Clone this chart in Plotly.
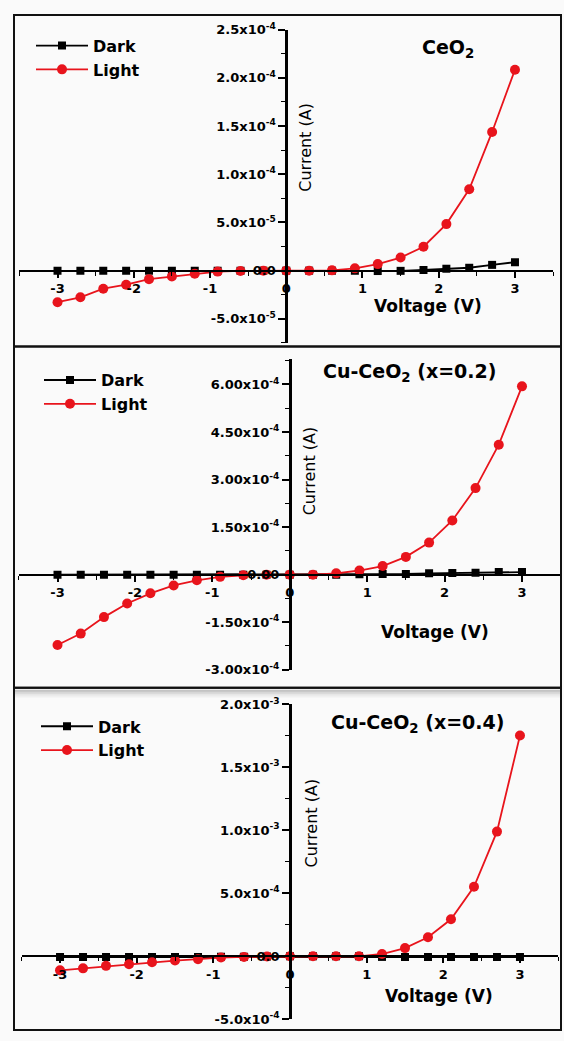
import plotly.graph_objects as go

# ---------------- data ----------------
voltage = [-3.0, -2.7, -2.4, -2.1, -1.8, -1.5, -1.2, -0.9, -0.6, -0.3, 0.0,
           0.3, 0.6, 0.9, 1.2, 1.5, 1.8, 2.1, 2.4, 2.7, 3.0]

ceo2_dark = [-2e-7, -2e-7, -2e-7, -2e-7, -2e-7, -2e-7, -2e-7, -1e-7, -1e-7, 0.0, 0.0,
             0.0, 0.0, -1e-7, -4e-7, -2e-7, 0.7e-6, 2.0e-6, 3.0e-6, 6.0e-6, 8.8e-6]
ceo2_light = [-3.27e-5, -2.76e-5, -1.87e-5, -1.46e-5, -0.88e-5, -0.61e-5, -0.31e-5, -0.10e-5,
              -0.03e-5, 0.0, 0.0, 0.0, 0.03e-5, 0.24e-5, 0.68e-5, 1.36e-5, 2.48e-5,
              4.83e-5, 8.44e-5, 14.39e-5, 20.85e-5]

cu02_dark = [0.0, 0.0, 0.0, 0.0, 0.0, 0.0, 0.0, 0.0, 0.0, 0.0, 0.0,
             0.0, 0.0, 0.01e-4, 0.02e-4, 0.02e-4, 0.04e-4, 0.05e-4, 0.06e-4, 0.08e-4, 0.08e-4]
cu02_light = [-2.22e-4, -1.86e-4, -1.34e-4, -0.91e-4, -0.59e-4, -0.34e-4, -0.18e-4, -0.07e-4,
              -0.02e-4, 0.0, 0.0, 0.0, 0.04e-4, 0.13e-4, 0.27e-4, 0.56e-4, 1.01e-4,
              1.71e-4, 2.73e-4, 4.10e-4, 5.94e-4]

cu04_dark = [-0.06e-4, -0.06e-4, -0.06e-4, -0.06e-4, -0.06e-4, -0.06e-4, -0.05e-4, -0.04e-4,
             -0.03e-4, -0.02e-4, 0.0, 0.0, 0.0, 0.0, -0.05e-4, -0.06e-4, -0.06e-4,
             -0.06e-4, -0.06e-4, -0.06e-4, -0.06e-4]
cu04_light = [-1.12e-4, -0.96e-4, -0.76e-4, -0.63e-4, -0.47e-4, -0.34e-4, -0.23e-4, -0.10e-4,
              -0.05e-4, -0.02e-4, 0.0, 0.0, 0.0, 0.0, 0.18e-4, 0.65e-4, 1.51e-4,
              2.94e-4, 5.52e-4, 9.90e-4, 17.53e-4]

titles = ["CeO<sub>2</sub>", "Cu-CeO<sub>2</sub> (x=0.2)", "Cu-CeO<sub>2</sub> (x=0.4)"]
series_names = ["Dark", "Light"]

x_tickvals = [-3, -2, -1, 0, 1, 2, 3]
x_ticktext = ["-3", "-2", "-1", "0", "1", "2", "3"]

y1_tickvals = [-5e-5, 0.0, 5e-5, 1e-4, 1.5e-4, 2e-4, 2.5e-4]
y1_ticktext = ["-5.0x10<sup>-5</sup>", "0.0", "5.0x10<sup>-5</sup>", "1.0x10<sup>-4</sup>",
               "1.5x10<sup>-4</sup>", "2.0x10<sup>-4</sup>", "2.5x10<sup>-4</sup>"]
y2_tickvals = [-3e-4, -1.5e-4, 0.0, 1.5e-4, 3e-4, 4.5e-4, 6e-4]
y2_ticktext = ["-3.00x10<sup>-4</sup>", "-1.50x10<sup>-4</sup>", "0.00", "1.50x10<sup>-4</sup>",
               "3.00x10<sup>-4</sup>", "4.50x10<sup>-4</sup>", "6.00x10<sup>-4</sup>"]
y3_tickvals = [-5e-4, 0.0, 5e-4, 1e-3, 1.5e-3, 2e-3]
y3_ticktext = ["-5.0x10<sup>-4</sup>", "0.0", "5.0x10<sup>-4</sup>", "1.0x10<sup>-3</sup>",
               "1.5x10<sup>-3</sup>", "2.0x10<sup>-3</sup>"]

# ---------------- layout helpers ----------------
W, H = 564, 1041
FONT = "DejaVu Sans"


def px(x):
    return x / W


def py(y):
    return 1 - y / H


panels = [
    dict(dark=ceo2_dark, light=ceo2_light, yt=y1_tickvals, ytt=y1_ticktext,
         xpx=(19.4, 553.1), ypx=(21.0, 339.5), yr=(-7.5e-5, 2.5e-4), ydt_minor=2.5e-5,
         box=(14, 6, 561, 343), cur=(306, 141), volt=(428, 302), title=(448, 40),
         legend=(31, 20)),
    dict(dark=cu02_dark, light=cu02_light, yt=y2_tickvals, ytt=y2_ticktext,
         xpx=(18.8, 560.7), ypx=(355.9, 671.7), yr=(-3.0e-4, 6.8e-4), ydt_minor=7.5e-5,
         box=(14, 343, 561, 690), cur=(309, 470), volt=(435, 633), title=(409, 370),
         legend=(39, 360)),
    dict(dark=cu04_dark, light=cu04_light, yt=y3_tickvals, ytt=y3_ticktext,
         xpx=(21.7, 558.3), ypx=(707.0, 1027.0), yr=(-5.0e-4, 2.0e-3), ydt_minor=2.5e-4,
         box=(14, 690, 561, 1038), cur=(311, 828), volt=(439, 1003), title=(417, 726),
         legend=(36, 712)),
]

XR = (-3.5, 3.5)

fig = go.Figure()
layout = dict(
    width=W, height=H, margin=dict(l=0, r=0, t=0, b=0),
    paper_bgcolor="#fafafa", plot_bgcolor="rgba(0,0,0,0)",
    font=dict(family=FONT, color="black"),
    shapes=[], annotations=[],
)

for i, p in enumerate(panels, start=1):
    sfx = "" if i == 1 else str(i)
    xname, yname = "x" + sfx, "y" + sfx
    legname = "legend" + sfx

    xd = (px(p["xpx"][0]), px(p["xpx"][1]))
    yd = (py(p["ypx"][1]), py(p["ypx"][0]))
    yr = p["yr"]
    # position of the axes crossing at zero
    ypos_zero = yd[0] + (0 - yr[0]) / (yr[1] - yr[0]) * (yd[1] - yd[0])
    xpos_zero = xd[0] + (0 - XR[0]) / (XR[1] - XR[0]) * (xd[1] - xd[0])

    fig.add_trace(go.Scatter(
        x=voltage, y=p["dark"], name=series_names[0], mode="lines+markers",
        line=dict(color="black", width=1.8),
        marker=dict(symbol="square", size=8, color="black"),
        xaxis=xname, yaxis=yname, legend=legname))
    fig.add_trace(go.Scatter(
        x=voltage, y=p["light"], name=series_names[1], mode="lines+markers",
        line=dict(color="#e8141c", width=1.8),
        marker=dict(symbol="circle", size=10, color="#e8141c"),
        xaxis=xname, yaxis=yname, legend=legname))

    layout["xaxis" + sfx] = dict(
        domain=list(xd), range=list(XR), anchor="free", position=ypos_zero,
        showline=True, linecolor="black", linewidth=2, mirror=False,
        ticks="outside", ticklen=6, tickwidth=1.8, tickcolor="black",
        tickmode="array", tickvals=x_tickvals,
        ticktext=["<b>%s</b>" % t for t in x_ticktext],
        tickfont=dict(size=13, family=FONT),
        minor=dict(ticks="outside", ticklen=4, tickwidth=1.4, tickcolor="black",
                   tickmode="linear", tick0=0.5, dtick=1, showgrid=False),
        showgrid=False, zeroline=False, fixedrange=True)
    layout["yaxis" + sfx] = dict(
        domain=list(yd), range=list(yr), anchor="free", position=xpos_zero,
        showline=True, linecolor="black", linewidth=2.6,
        ticks="outside", ticklen=7, tickwidth=1.8, tickcolor="black",
        tickmode="array", tickvals=p["yt"],
        ticktext=["<b>%s</b>" % t for t in p["ytt"]],
        tickfont=dict(size=13, family=FONT),
        minor=dict(ticks="outside", ticklen=4, tickwidth=1.4, tickcolor="black",
                   tickmode="linear", tick0=p["yt"][0] + p["ydt_minor"],
                   dtick=2 * p["ydt_minor"], showgrid=False),
        showgrid=False, zeroline=False, fixedrange=True)

    layout[legname] = dict(
        x=px(p["legend"][0]), y=py(p["legend"][1]), xanchor="left", yanchor="top",
        bgcolor="rgba(0,0,0,0)", borderwidth=0,
        font=dict(size=16, family=FONT, weight="bold"),
        itemwidth=52, tracegroupgap=0)

    bx0, by0, bx1, by1 = p["box"]
    layout["shapes"].append(dict(
        type="rect", xref="paper", yref="paper",
        x0=px(bx0), x1=px(bx1), y0=py(by1), y1=py(by0),
        line=dict(color="#111111", width=2), fillcolor="rgba(0,0,0,0)", layer="above"))

    common = dict(xref="paper", yref="paper", showarrow=False,
                  xanchor="center", yanchor="middle")
    layout["annotations"] += [
        dict(text="Current (A)", x=px(p["cur"][0]), y=py(p["cur"][1]), textangle=-90,
             font=dict(size=16, family=FONT), **common),
        dict(text="<b>Voltage (V)</b>", x=px(p["volt"][0]), y=py(p["volt"][1]),
             font=dict(size=17, family=FONT), **common),
        dict(text="<b>%s</b>" % titles[i - 1], x=px(p["title"][0]), y=py(p["title"][1]),
             font=dict(size=19, family=FONT), **common),
    ]

# soft shadow under the divider above the last panel
for k, a in enumerate([0.22, 0.14, 0.08, 0.04]):
    layout["shapes"].append(dict(
        type="rect", xref="paper", yref="paper", x0=px(15), x1=px(560),
        y0=py(692 + 2 * (k + 1)), y1=py(692 + 2 * k),
        line=dict(width=0), fillcolor="rgba(0,0,0,%.2f)" % a, layer="below"))

fig.update_layout(**layout)
fig.write_html("out.html")
